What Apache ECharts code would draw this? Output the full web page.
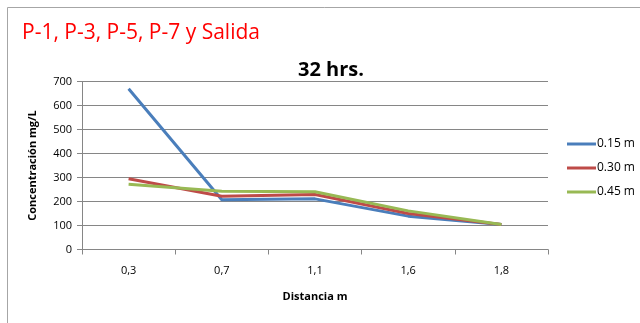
<!DOCTYPE html>
<html><head><meta charset="utf-8">
<script src="https://cdn.jsdelivr.net/npm/echarts@6/dist/echarts.min.js"></script>
<style>html,body{margin:0;padding:0;background:#fff}#c{width:640px;height:323px}</style>
</head><body><div id="c"></div>
<script>
const categories = ['0,3', '0,7', '1,1', '1,6', '1,8'];
const s015 = [670, 207, 211, 139, 104];
const s030 = [295, 222, 229, 150, 104];
const s045 = [272, 243, 241, 161, 104];
const seriesNames = ['0.15 m', '0.30 m', '0.45 m'];
const colors = ['#4a7ebb', '#be4b48', '#98b954'];
const yTicks = {min: 0, max: 700, interval: 100};

const font = 'Open Sans';
const chart = echarts.init(document.getElementById('c'), null, {renderer: 'canvas'});
const data = [s015, s030, s045];
chart.setOption({
  animation: false,
  backgroundColor: '#fff',
  graphic: [{type: 'rect', shape: {x: 7.5, y: 7.5, width: 700, height: 400}, style: {fill: 'none', stroke: '#a6a6a6', lineWidth: 1}, z: -1}],
  title: [
    {text: 'P-1, P-3, P-5, P-7 y Salida', left: 22, top: 23, padding: 0, textStyle: {color: '#ff0000', fontSize: 21, fontWeight: 'normal', fontFamily: font}},
    {text: '32 hrs.', left: 331, top: 60, padding: 0, textAlign: 'center', textStyle: {color: '#000', fontSize: 20, fontWeight: 'bold', fontFamily: font}}
  ],
  grid: {left: 82, right: 92, top: 81.5, bottom: 73.5},
  legend: {
    orient: 'vertical', left: 562, top: 133, itemGap: 12, itemWidth: 29, itemHeight: 3,
    icon: 'rect',
    textStyle: {fontSize: 12, fontFamily: font, color: '#000', padding: [0,0,0,-4]},
    data: seriesNames
  },
  xAxis: {
    type: 'category', data: categories, boundaryGap: true,
    name: 'Distancia m', nameLocation: 'middle', nameGap: 42,
    nameTextStyle: {fontSize: 11, fontWeight: 'bold', fontFamily: font, color: '#000'},
    axisLine: {lineStyle: {color: '#868686'}},
    axisTick: {show: true, length: 5, lineStyle: {color: '#868686'}},
    axisLabel: {fontSize: 11, fontFamily: font, color: '#000', margin: 16}
  },
  yAxis: {
    type: 'value', min: yTicks.min, max: yTicks.max, interval: yTicks.interval,
    name: 'Concentración mg/L', nameLocation: 'middle', nameGap: 44,
    nameTextStyle: {fontSize: 11, fontWeight: 'bold', fontFamily: font, color: '#000'},
    axisLine: {show: true, lineStyle: {color: '#868686'}},
    axisTick: {show: true, length: 5, lineStyle: {color: '#868686'}},
    axisLabel: {fontSize: 11, fontFamily: font, color: '#000', margin: 10},
    splitLine: {lineStyle: {color: '#868686'}}
  },
  series: seriesNames.map((n, i) => ({
    name: n, type: 'line', data: data[i], symbol: 'none',
    lineStyle: {width: 3, color: colors[i]}, itemStyle: {color: colors[i]}
  }))
});
</script></body></html>
